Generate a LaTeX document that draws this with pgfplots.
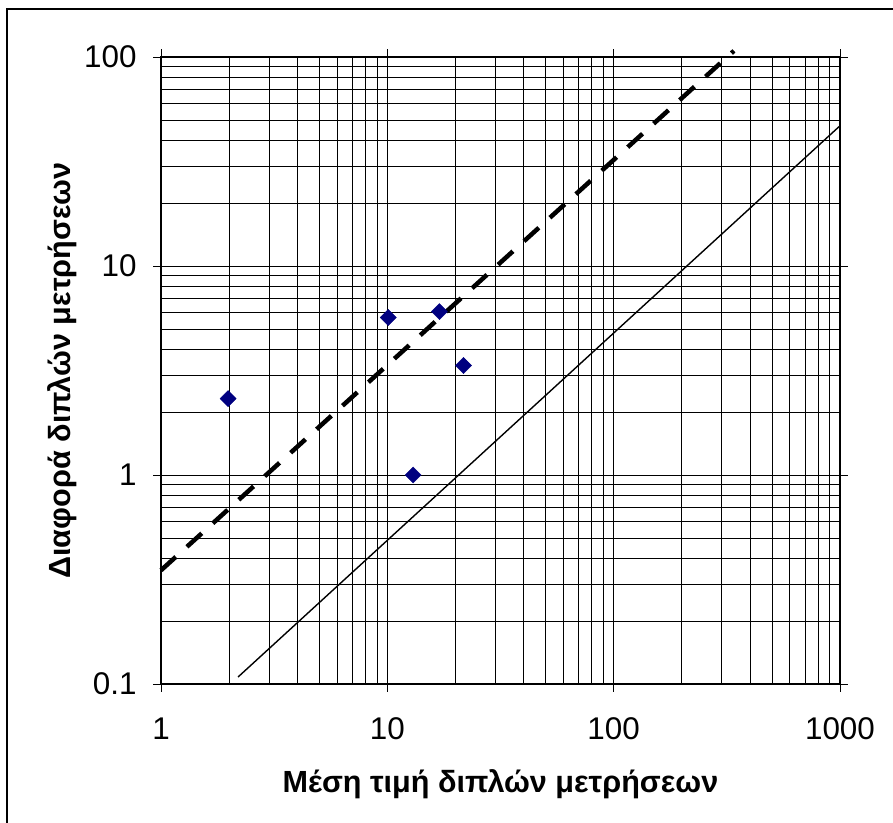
\documentclass[border=0pt]{standalone}
\usepackage{pgfplots}
\pgfplotsset{compat=1.18}
\usepackage{fontspec}
\setmainfont{Liberation Sans}
\begin{document}
\begin{tikzpicture}
\begin{axis}[
 at={(0,0)}, anchor=south west,
 scale only axis, width=679bp, height=627bp,
 xmode=log, ymode=log, xmin=1, xmax=1000, ymin=0.1, ymax=100,
 xtick={1,10,100,1000}, xticklabels={1,10,100,1000},
 ytick={0.1,1,10,100}, yticklabels={0.1,1,10,100},
 grid=both,
 major grid style={black, line width=0.7bp},
 minor grid style={black, line width=0.6bp},
 axis line style={black, line width=1.5bp},
 tick align=outside, major tick length=8bp, minor tick length=0pt,
 tick style={black, line width=0.8bp},
 ticklabel style={font=\fontsize{31.5}{36}\selectfont},
 xticklabel style={anchor=base, yshift=-48bp},
 yticklabel style={anchor=east, xshift=-13bp},
 xlabel={Μέση τιμή διπλών μετρήσεων},
 ylabel={Διαφορά διπλών μετρήσεων},
 label style={font=\bfseries\fontsize{30.7}{36}\selectfont},
 xlabel style={at={(axis description cs:0.5,-0.173)}, anchor=base},
 ylabel style={at={(axis description cs:-0.134,0.5)}, anchor=base},
 clip=false,
]
\addplot[black, line width=4.5bp, line cap=butt, dash pattern=on 20bp off 15bp] coordinates {(1,0.35) (340,107)};
\addplot[black, line width=1.4bp] coordinates {(2.19,0.108) (990,46.4)};
\addplot[only marks, mark=square*, mark size=5.7bp, mark options={rotate=45, fill=blue!50!black, draw=blue!50!black}, color=blue!50!black]
 coordinates {(1.98,2.32) (10.1,5.67) (13.0,1.0) (17.0,6.05) (21.7,3.34)};
\end{axis}
\pgfresetboundingbox
\path[use as bounding box] (-161bp,-139bp) rectangle (732bp,684bp);
\draw[black, line width=1.5bp] (-154bp,-170bp) rectangle (760bp,675bp);
\end{tikzpicture}
\end{document}
